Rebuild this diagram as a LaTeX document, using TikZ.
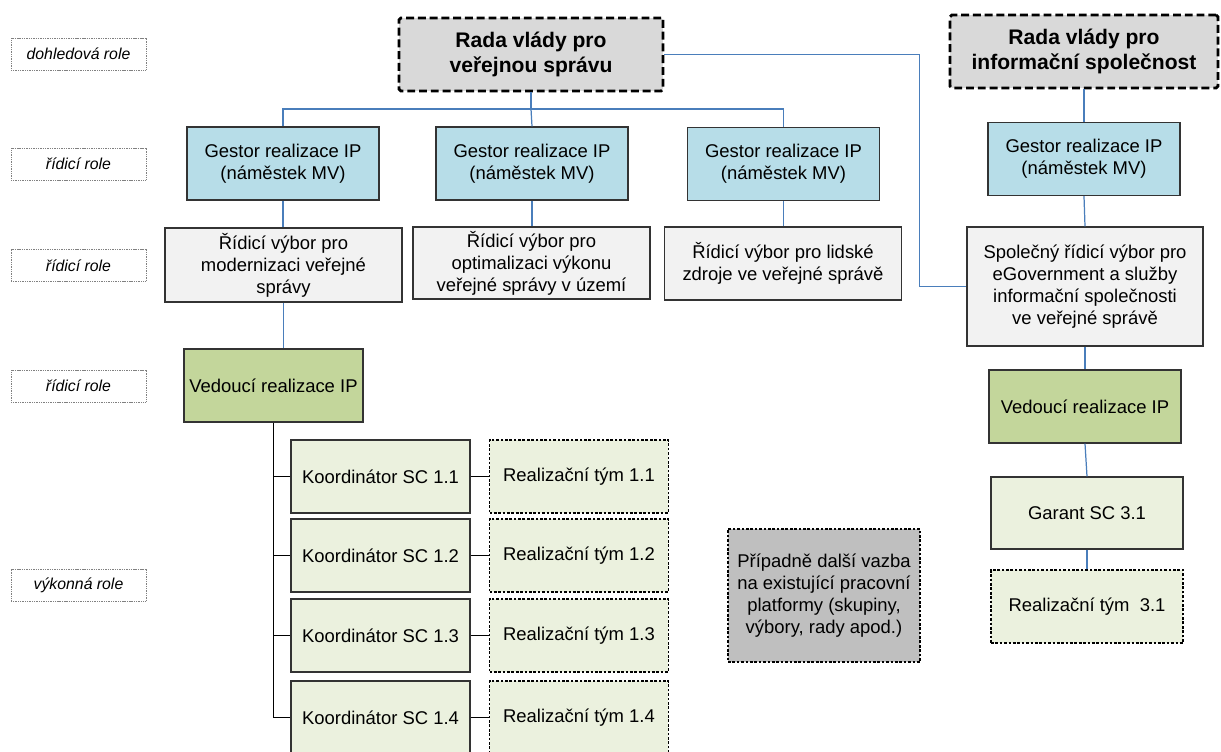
\documentclass[tikz,border=0pt]{standalone}
\usepackage{fontspec}
\setmainfont{Liberation Sans}
\usepackage{tikz}
\usetikzlibrary{positioning}
\definecolor{radagray}{HTML}{D9D9D9}
\definecolor{gestorblue}{HTML}{B7DDE8}
\definecolor{vyborgray}{HTML}{F2F2F2}
\definecolor{vedgreen}{HTML}{C3D69B}
\definecolor{lightgreen}{HTML}{EBF1DE}
\definecolor{dalsigray}{HTML}{BFBFBF}
\definecolor{linkblue}{HTML}{4A7EBB}
\definecolor{boxline}{HTML}{333333}

\begin{document}
\begin{tikzpicture}[
  x=0.02cm, y=-0.02cm,
  font=\fontsize{10.5}{12.5}\selectfont,
  base/.style={rectangle, draw=boxline, line width=0.7pt, align=center, inner sep=2pt},
  role/.style={rectangle, draw=gray, line width=0.4pt, dash pattern=on 0.6pt off 0.4pt,
               minimum width=2.7cm, minimum height=0.64cm, font=\fontsize{9}{11}\selectfont\itshape},
  rada/.style={base, fill=radagray, draw=black, line width=1.6pt, rounded corners=1pt,
               dash pattern=on 4.5pt off 2.2pt, minimum height=1.46cm,
               font=\fontsize{12}{14.7}\selectfont\bfseries},
  gestor/.style={base, fill=gestorblue, minimum width=3.84cm, minimum height=1.46cm},
  vybor/.style={base, fill=vyborgray, minimum width=4.74cm},
  vedouci/.style={base, fill=vedgreen, minimum height=1.46cm},
  koord/.style={base, fill=lightgreen, minimum width=3.58cm, minimum height=1.46cm},
  tym/.style={koord, draw=black, dash pattern=on 1.5pt off 1pt},
  link/.style={draw=linkblue, line width=0.7pt},
  tree/.style={draw=black, line width=1pt}
]
  \useasboundingbox (0,0) rectangle (1221,751);
  \clip (0,0) rectangle (1221,751);

  \node[role] (r0) at (78.5,54) {dohledová role};
  \node[role] (r1) at (78.5,164) {řídicí role};
  \node[role] (r2) at (78.5,265.5) {řídicí role};
  \node[role] (r3) at (78.5,386) {řídicí role};
  \node[role] (r4) at (78.5,585.5) {výkonná role};

  \node[rada, minimum width=5.28cm] (rvs) at (531,54.5) {Rada vlády pro\\ veřejnou správu};
  \node[rada, minimum width=5.36cm] (ris) at (1084,51.5) {Rada vlády pro\\ informační společnost};

  \node[gestor] (g1) at (283,163.5) {Gestor realizace IP\\ (náměstek MV)};
  \node[gestor] (g2) at (532,163.5) {Gestor realizace IP\\ (náměstek MV)};
  \node[gestor] (g3) at (783.5,164) {Gestor realizace IP\\ (náměstek MV)};
  \node[gestor] (g4) at (1084,159) {Gestor realizace IP\\ (náměstek MV)};

  \node[vybor, minimum height=1.48cm] (v1) at (283.5,265) {Řídicí výbor pro\\ modernizaci veřejné\\ správy};
  \node[vybor, minimum height=1.44cm] (v2) at (531.5,263) {Řídicí výbor pro\\ optimalizaci výkonu\\ veřejné správy v území};
  \node[vybor, minimum height=1.46cm] (v3) at (783,263.5) {Řídicí výbor pro lidské\\ zdroje ve veřejné správě};
  \node[vybor, minimum width=4.72cm, minimum height=2.38cm] (spol) at (1085,286.5)
    {Společný řídicí výbor pro\\ eGovernment a služby\\ informační společnosti\\ ve veřejné správě};

  \node[vedouci, minimum width=3.58cm] (ved1) at (273.5,385.5) {Vedoucí realizace IP};
  \node[vedouci, minimum width=3.84cm] (ved2) at (1085,406.5) {Vedoucí realizace IP};

  \node[koord] (k1) at (380.5,476.5) {Koordinátor SC 1.1};
  \node[koord] (k2) at (380.5,555.5) {Koordinátor SC 1.2};
  \node[koord] (k3) at (380.5,635.5) {Koordinátor SC 1.3};
  \node[koord] (k4) at (380.5,717.5) {Koordinátor SC 1.4};
  \node[tym] (t1) at (579,476.5) {Realizační tým 1.1};
  \node[tym] (t2) at (579,555.5) {Realizační tým 1.2};
  \node[tym] (t3) at (579,635.5) {Realizační tým 1.3};
  \node[tym] (t4) at (579,717.5) {Realizační tým 1.4};

  \node[base, fill=dalsigray, draw=black, dash pattern=on 1.5pt off 1pt,
        minimum width=3.84cm, minimum height=2.66cm] (dalsi) at (824,595.5)
    {Případně další vazba\\ na existující pracovní\\ platformy (skupiny,\\ výbory, rady apod.)};

  \node[koord, minimum width=3.84cm, minimum height=1.44cm] (gar) at (1087,513) {Garant SC 3.1};
  \node[tym, minimum width=3.84cm] (t31) at (1087,606.5) {Realizační tým\ \ 3.1};

  \coordinate (hub) at (531,109);
  \draw[link] (rvs.south) -- (hub);
  \draw[link] (hub) -| (g1.north);
  \draw[link] (hub) -- (g2.north);
  \draw[link] (hub) -| (g3.north);
  \draw[link] (g1.south) -- (g1.south |- v1.north);
  \draw[link] (g2.south) -- (g2.south |- v2.north);
  \draw[link] (g3.south) -- (g3.south |- v3.north);
  \draw[link] (v1.south) -- (v1.south |- ved1.north);
  \draw[link] (rvs.east) -- ++(255,0) |- (spol.west);
  \draw[link] (ris.south) -- (g4.north);
  \draw[link] (g4.south) -- (spol.north);
  \draw[link] (spol.south) -- (ved2.north);
  \draw[link] (ved2.south) -- (gar.north);
  \draw[link] (gar.south) -- (t31.north);

  \draw[tree] (ved1.south) |- (k4.west);
  \foreach \i in {1,2,3} {
    \draw[tree] (ved1.south |- k\i.west) -- (k\i.west);
  }
  \foreach \i in {1,...,4} {
    \draw[tree] (k\i.east) -- (t\i.west);
  }
\end{tikzpicture}
\end{document}
